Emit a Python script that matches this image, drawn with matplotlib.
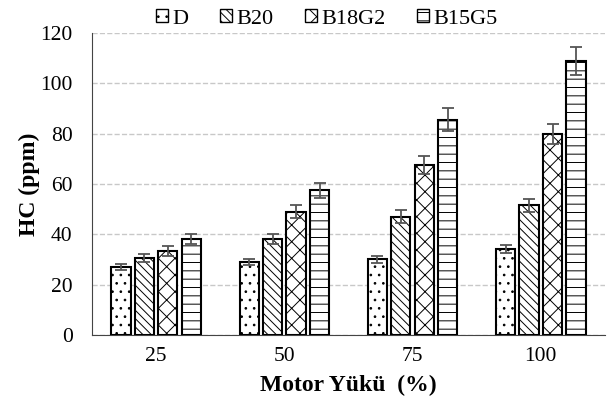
import numpy as np
import matplotlib.pyplot as plt

plt.rcParams['font.family'] = ['Liberation Serif', 'DejaVu Serif']
plt.rcParams['hatch.linewidth'] = 0.7

loads = ['25', '50', '75', '100']
fuels = ['D', 'B20', 'B18G2', 'B15G5']
hc = {
    'D':     [27, 29, 30, 34],
    'B20':   [30.5, 38, 47, 51.5],
    'B18G2': [33.5, 49, 67.5, 80],
    'B15G5': [38, 57.5, 85.5, 109],
}
err = {
    'D':     [1.2, 1.3, 1.4, 1.6],
    'B20':   [1.5, 2.0, 2.5, 2.5],
    'B18G2': [2.0, 2.5, 3.5, 4.0],
    'B15G5': [2.0, 3.0, 4.5, 5.5],
}
hatches = ['..', '\\\\\\\\', 'xx', '--']

fig, ax = plt.subplots(figsize=(6.11, 4.05), dpi=100)
fig.subplots_adjust(left=0.1506, right=0.99, top=0.9185, bottom=0.173)

x = np.arange(len(loads))
w = 0.15
step = 0.183
for i, f in enumerate(fuels):
    ax.bar(x + (i - 1.5) * step, hc[f], w, yerr=err[f], color='white',
           edgecolor='black', linewidth=1.5, hatch=hatches[i], label=f,
           error_kw=dict(ecolor='#555555', capsize=4, elinewidth=1.3, capthick=1.3),
           zorder=3)

ax.set_xlim(-0.5, 3.5)
ax.set_ylim(0, 120)
ax.set_yticks(range(0, 121, 20))
ax.set_xticks(x)
ax.set_xticklabels(loads)
ax.tick_params(labelsize=15.5, length=0)
ax.tick_params(axis='y', pad=14)
ax.tick_params(axis='x', pad=9)
ax.yaxis.grid(True, linestyle='--', color='#c8c8c8', linewidth=1)
ax.set_axisbelow(True)
for s in ['top', 'right']:
    ax.spines[s].set_visible(False)
ax.spines['left'].set_color('#444444')
ax.spines['bottom'].set_color('#444444')

ax.set_xlabel('Motor Yükü  (%)', fontsize=17, fontweight='bold', labelpad=6)
ax.set_ylabel('HC (ppm)', fontsize=17, fontweight='bold', labelpad=0)

leg = ax.legend(loc='lower center', bbox_to_anchor=(0.458, 0.985), ncol=4, frameon=False,
                fontsize=16, handlelength=0.55, handleheight=0.55, handletextpad=0.2,
                columnspacing=1.4, borderaxespad=0)
for h in leg.legend_handles:
    h.set_linewidth(1.0)

plt.savefig('out.png', dpi=100)
